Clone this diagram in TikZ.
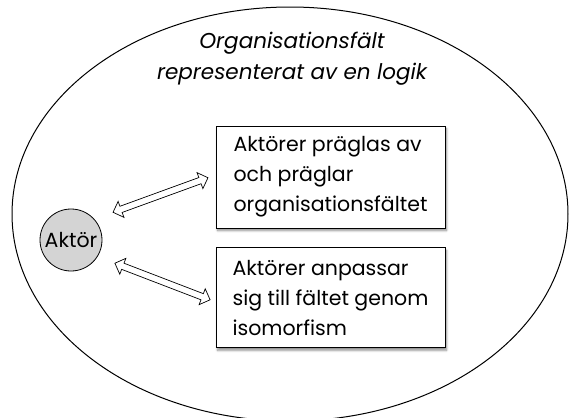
\documentclass[tikz,border=0pt]{standalone}
\usepackage{fontspec}
\setmainfont{Poppins}
\usepackage{tikz}
\usetikzlibrary{positioning,shapes,shadows.blur}

\begin{document}
\begin{tikzpicture}[x=1pt, y=-1pt, line width=0.8pt,
    font=\fontsize{20.5}{30}\selectfont,
    ruta/.style={draw, rectangle, fill=white, align=left, minimum width=229pt,
        inner sep=0pt, minimum height=100pt,
        blur shadow={shadow xshift=1.5pt, shadow yshift=-2.5pt, shadow blur steps=6, shadow opacity=45}},
    pil/.style={draw, double arrow, fill=white, inner sep=2.8pt, minimum width=17pt,
        double arrow head extend=5pt, double arrow head indent=0pt, line width=0.7pt}]
    \useasboundingbox (0,0) rectangle (571,418);

    % Field
    \draw[line width=1pt] (290,214) ellipse [x radius=278, y radius=207];
    \node[align=center, font=\fontsize{21.5}{31}\selectfont\itshape] (falt) at (292,59)
        {Organisationsfält\\representerat av en logik};

    % Actor
    \node[draw, circle, fill=black!17, minimum size=62pt, inner sep=0pt] (aktor) at (71,240) {Aktör};

    % Boxes
    \node[ruta, minimum height=102pt] (ruta1) at (330.5,177) {Aktörer präglas av\\och präglar\\organisationsfältet};
    \node[ruta, below=19pt of ruta1] (ruta2) {Aktörer anpassar\\sig till fältet genom\\isomorfism};

    % Arrows
    \node[pil, rotate=20, minimum height=101pt] (pil1) at (160.5,195) {};
    \node[pil, rotate=-21, minimum height=102pt] (pil2) at (162.5,281.5) {};
\end{tikzpicture}
\end{document}
